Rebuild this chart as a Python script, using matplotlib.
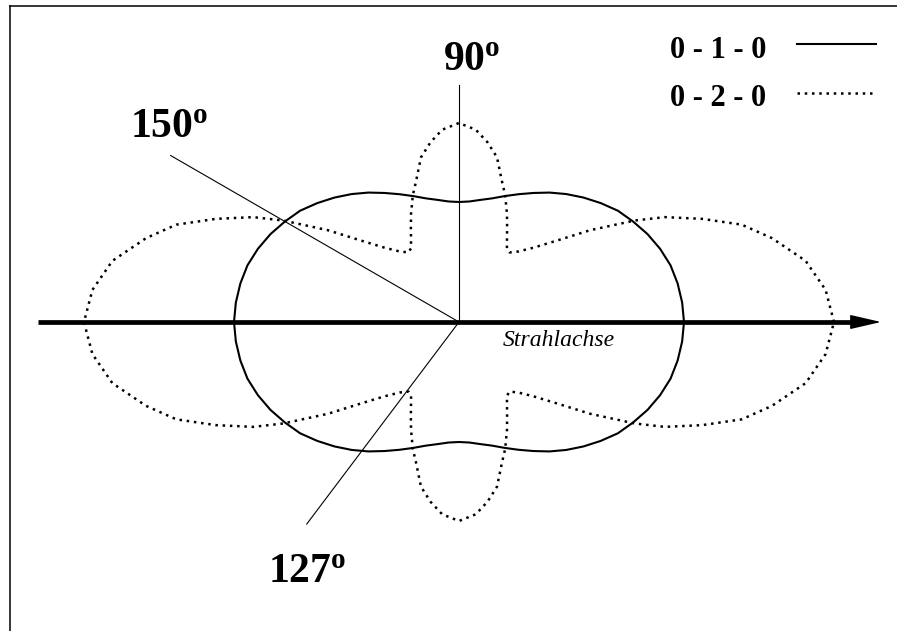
import numpy as np
import matplotlib.pyplot as plt

plt.rcParams['font.family'] = 'Liberation Serif'
plt.rcParams['mathtext.fontset'] = 'custom'
plt.rcParams['mathtext.rm'] = 'Liberation Serif'
plt.rcParams['mathtext.bf'] = 'Liberation Serif:bold'

# Winkelverteilung im ersten Quadranten (Winkel in Grad, Intensitaet)
winkel_010 = [0, 5, 10, 15, 20, 25, 30, 35, 40, 45, 50, 55, 60, 65, 70, 75, 80, 85, 90]
r_010 = [225, 224, 222, 219, 214, 208, 201, 194, 185, 176, 167, 158, 149, 141, 134, 128, 124, 121, 120]

winkel_020 = [0, 5, 10, 15, 19, 23, 27, 30, 35, 40, 45, 50, 54, 57, 60, 63, 66, 70, 73, 77, 81, 85, 90]
r_020 = [375, 368, 352, 324, 299, 264, 231, 203, 160, 126, 105, 92, 86, 88, 96, 106, 118, 135, 147, 169, 182, 193, 199]

# Hilfslinien: Richtung und Laenge
richtungen = [90, 150, -127]
laengen = [237, 333, 253]


def kurve(winkel, r):
    # Symmetrie um 90 Grad und um die Strahlachse
    t = np.array(winkel, float)
    r = np.array(r, float)
    t_oben = np.concatenate([t, 180 - t[::-1]])
    r_oben = np.concatenate([r, r[::-1]])
    t_alle = np.concatenate([t_oben, 360 - t_oben[::-1]])
    r_alle = np.concatenate([r_oben, r_oben[::-1]])
    phi = np.radians(t_alle)
    return r_alle * np.cos(phi), r_alle * np.sin(phi)


fig = plt.figure(figsize=(8.97, 6.31), dpi=100)
ax = fig.add_axes([0, 0, 1, 1])
ax.set_xlim(-459, 438)
ax.set_ylim(-309, 322)
ax.axis('off')

punktiert = (0, (1, 1.9))

x, y = kurve(winkel_010, r_010)
ax.plot(x, y, color='black', lw=1.5)
x, y = kurve(winkel_020, r_020)
ax.plot(x, y, color='black', lw=1.8, linestyle=punktiert)

# Strahlachse mit Pfeil
ax.plot([-421, 400], [0, 0], color='black', lw=3.4, solid_capstyle='butt')
ax.annotate('', xy=(422, 0), xytext=(396, 0),
            arrowprops=dict(arrowstyle='-|>,head_length=1.3,head_width=0.3',
                            color='black', lw=1, shrinkA=0, shrinkB=0,
                            mutation_scale=15))
ax.text(44, -24, 'Strahlachse', fontsize=17, style='italic', va='baseline')

for w, l in zip(richtungen, laengen):
    phi = np.radians(w)
    ax.plot([0, l * np.cos(phi)], [0, l * np.sin(phi)], color='black', lw=0.8)

ax.text(-16, 252, r'$\mathbf{90^{o}}$', fontsize=30, va='baseline')
ax.text(-329, 185, r'$\mathbf{150^{o}}$', fontsize=30, va='baseline')
ax.text(-191, -260, r'$\mathbf{127^{o}}$', fontsize=30, va='baseline')

# Legende
ax.text(211, 264, '0 - 1 - 0', fontsize=22, fontweight='bold', va='baseline')
ax.text(211, 216, '0 - 2 - 0', fontsize=22, fontweight='bold', va='baseline')
ax.plot([338, 417], [278, 278], color='black', lw=1.5)
ax.plot([338, 414], [229, 229], color='black', lw=1.8, linestyle=punktiert)

# Rahmen
ax.plot([-449.5, 438], [316.5, 316.5], color='black', lw=1.1)
ax.plot([-449.5, -449.5], [316.5, -309], color='black', lw=1.1)

fig.savefig('out.png', dpi=100)
